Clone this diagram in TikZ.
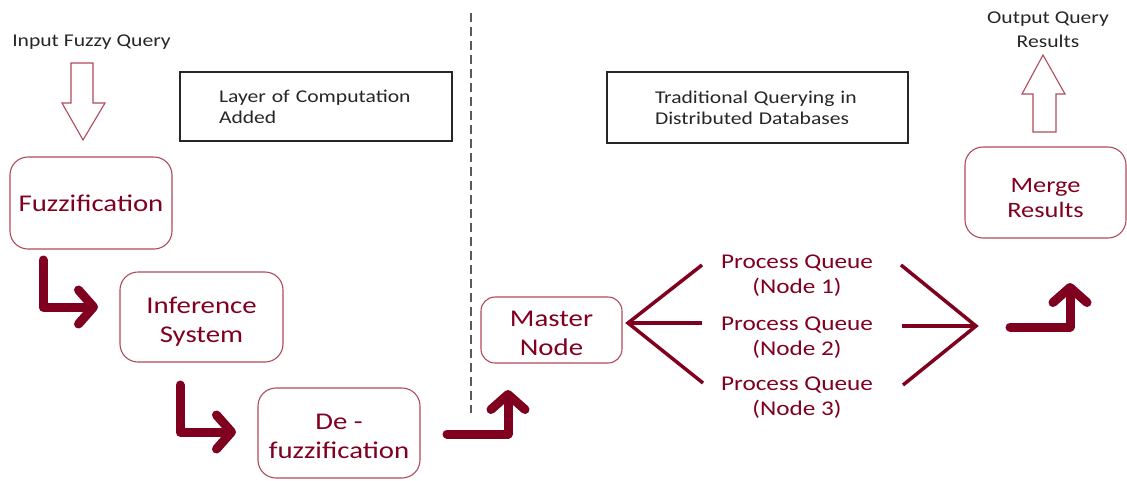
\documentclass[tikz,border=0pt]{standalone}
\usepackage{fontspec}
\setmainfont{Carlito}[FakeStretch=1.2]
\usepackage{tikz}
\usepackage{xcolor}
\usetikzlibrary{arrows.meta}

\definecolor{wine}{RGB}{128,0,32}
\definecolor{rimred}{RGB}{176,74,90}
\definecolor{divgray}{RGB}{90,90,90}

\begin{document}
\begin{tikzpicture}[
    x=1pt, y=-1pt,
    stage/.style={draw=rimred, line width=1.1pt, rounded corners=18pt, align=center,
                  text=wine, inner sep=0pt, font=\fontsize{24}{29}\selectfont},
    twoline/.style={text height=50pt, text depth=0pt},
    layerbox/.style={draw=black!85, line width=1.2pt, align=left, inner ysep=0pt,
                     text=black!85, font=\fontsize{18}{21}\selectfont},
    plaintext/.style={align=center, text=black!85, font=\fontsize{18}{24}\selectfont},
    queue/.style={align=center, text=wine, font=\fontsize{21}{25}\selectfont,
                  text height=39pt, text depth=0pt},
    bent/.style={wine, line width=9pt, line cap=round, line join=round,
                 -{Straight Barb[length=15pt, width=34pt, round]}},
    fan/.style={wine, line width=3.5pt},
    hollow/.style={draw=rimred, line width=1.1pt, fill=white}
]
\useasboundingbox (0,0) rectangle (1127,480);

\node at (91.5, 42) [plaintext] (input) {Input Fuzzy Query};
\node at (1048, 30) [plaintext] (output) {Output Query\\Results};

\node at (316, 106.5) [layerbox, minimum height=69pt, inner xsep=39pt, text width=194pt] (layer)
    {Layer of Computation\\Added};
\node at (757.5, 107.5) [layerbox, minimum height=71pt, inner xsep=48pt, text width=205pt] (trad)
    {Traditional Querying in\\Distributed Databases};

\node at (91, 203) [stage, minimum width=162pt, minimum height=92pt] (fuzz) {Fuzzification};
\node at (201.5, 317) [stage, twoline, minimum width=163pt, minimum height=90pt] (infer) {Inference\\System};
\node at (339, 433) [stage, twoline, minimum width=162pt, minimum height=90pt] (defuzz) {De -\\fuzzification};
\node at (551.5, 330) [stage, twoline, minimum width=141pt, minimum height=66pt, rounded corners=14pt] (master)
    {Master\\Node};
\node at (1045.5, 192.5) [stage, twoline, minimum width=161pt, minimum height=91pt,
    font=\fontsize{22}{25}\selectfont] (merge) {Merge\\Results};

\node at (797, 273.5) [queue] (pq1) {Process Queue\\(Node 1)};
\node at (797, 335.5) [queue] (pq2) {Process Queue\\(Node 2)};
\node at (797, 395.5) [queue] (pq3) {Process Queue\\(Node 3)};

% hollow arrows in and out
\draw [hollow] (71,63) -- (93,63) -- (93,103) -- (105,103) -- (83,140)
    -- (62,103) -- (71,103) -- cycle;
\draw [hollow] (1033,132) -- (1056,132) -- (1056,94) -- (1065,94) -- (1043,55)
    -- (1022,94) -- (1033,94) -- cycle;

% dividing line
\coordinate (divtop) at (471,13);
\coordinate (divbot) at (471,413);
\draw [divgray, line width=1.4pt, dash pattern=on 9pt off 5pt] (divtop) -- (divbot);

% bent arrows between stages
\coordinate (b1s) at (43,260);   \coordinate (b1e) at (98,307);
\coordinate (b2s) at (180,385);  \coordinate (b2e) at (236,432);
\coordinate (b3s) at (447,434);  \coordinate (b3e) at (508,390);
\coordinate (b4s) at (1010,327); \coordinate (b4e) at (1070,283);
\draw [bent] (b1s) |- (b1e);
\draw [bent] (b2s) |- (b2e);
\draw [bent] (b3s) -| (b3e);
\draw [bent] (b4s) -| (b4e);

% fan out to the queues and back in
\coordinate (fanL) at (628,323);
\coordinate (fanR) at (976,326);
\coordinate (l1) at (702,265); \coordinate (l2) at (702,323); \coordinate (l3) at (703,383);
\coordinate (r1) at (901,265); \coordinate (r2) at (902,326); \coordinate (r3) at (903,385);
\draw [fan] (l1) -- (fanL) -- (l3);
\draw [fan] (fanL) -- (l2);
\draw [fan] (r1) -- (fanR) -- (r3);
\draw [fan] (r2) -- (fanR);
\end{tikzpicture}
\end{document}
